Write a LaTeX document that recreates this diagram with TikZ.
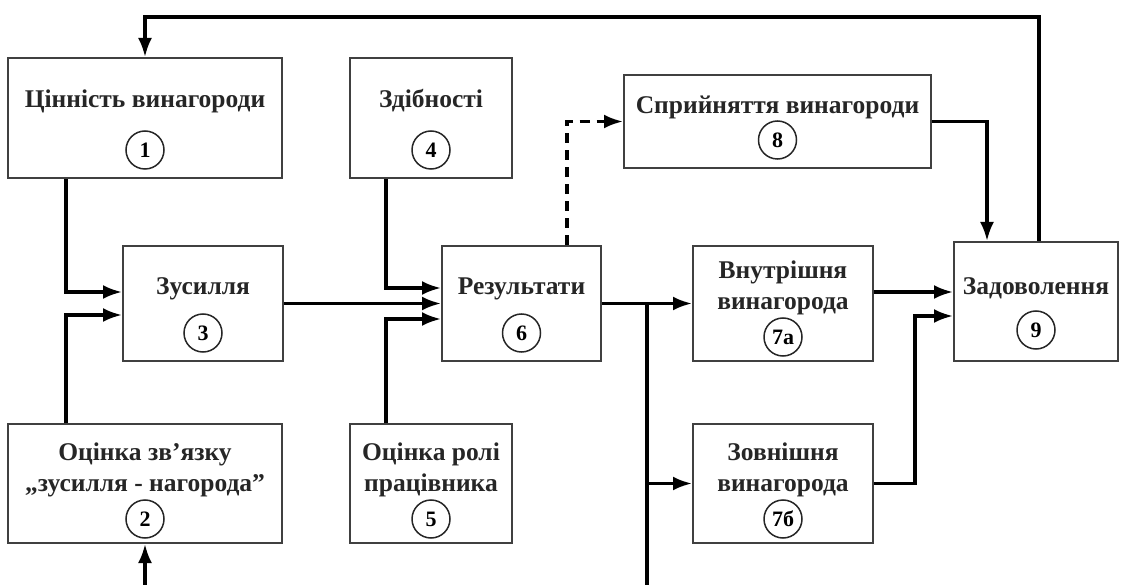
\documentclass[tikz,border=0pt]{standalone}
\usepackage{fontspec}
\setmainfont{Liberation Serif}
\usetikzlibrary{arrows.meta}

\begin{document}
\begin{tikzpicture}[x=1pt, y=-1pt, line join=miter,
  blok/.style={draw=black!75, line width=2pt, inner sep=0pt},
  napys/.style={font=\bfseries\fontsize{25.5}{31}\selectfont, inner sep=0pt, align=center, text=black!85},
  nomer/.style={circle, draw=black!85, line width=1.5pt, minimum size=38pt, inner sep=0pt, font=\bfseries\fontsize{22}{22}\selectfont},
  zvyazok/.style={line width=3.2pt, -{Latex[length=19pt,width=14pt]}},
  punktyr/.style={zvyazok, dashed, dash pattern=on 10pt off 7pt}]
  \useasboundingbox (0,0) rectangle (1122,585);
  % blocks
  \node[blok, minimum width=274pt, minimum height=120pt] (b1) at (145,118) {};
  \node[blok, minimum width=162pt, minimum height=120pt] (b4) at (431,118) {};
  \node[blok, minimum width=307pt, minimum height=93pt] (b8) at (777.5,121.5) {};
  \node[blok, minimum width=160pt, minimum height=115pt] (b3) at (203,303.5) {};
  \node[blok, minimum width=159pt, minimum height=115pt] (b6) at (521.5,303.5) {};
  \node[blok, minimum width=180pt, minimum height=115pt] (b7a) at (783,303.5) {};
  \node[blok, minimum width=164pt, minimum height=119pt] (b9) at (1036,301.5) {};
  \node[blok, minimum width=274pt, minimum height=119pt] (b2) at (145,483.5) {};
  \node[blok, minimum width=162pt, minimum height=119pt] (b5) at (431,483.5) {};
  \node[blok, minimum width=180pt, minimum height=119pt] (b7b) at (783,483.5) {};
  % labels
  \node[napys] at (145,101) {Цінність винагороди};
  \node[nomer] (n1) at (145,150) {1};
  \node[napys] at (431,101) {Здібності};
  \node[nomer] (n4) at (431,150) {4};
  \node[napys] at (777.5,107) {Сприйняття винагороди};
  \node[nomer] (n8) at (777.5,140) {8};
  \node[napys] at (203,289) {Зусилля};
  \node[nomer] (n3) at (203,333) {3};
  \node[napys] at (521.5,289) {Результати};
  \node[nomer] (n6) at (521.5,333) {6};
  \node[napys] at (783,288) {Внутрішня\\винагорода};
  \node[nomer] (n7a) at (783,337) {7а};
  \node[napys] at (1036,288) {Задоволення};
  \node[nomer] (n9) at (1036,330) {9};
  \node[napys] at (145,470) {Оцінка зв’язку\\„зусилля - нагорода”};
  \node[nomer] (n2) at (145,519) {2};
  \node[napys] at (431,470) {Оцінка ролі\\працівника};
  \node[nomer] (n5) at (431,519) {5};
  \node[napys] at (783,470) {Зовнішня\\винагорода};
  \node[nomer] (n7b) at (783,519) {7б};
  % free ends
  \coordinate (verh) at (145,17);
  \coordinate (j) at (647,303.5);
  \coordinate (niz1) at (647,585);
  \coordinate (niz2) at (145,585);
  % connectors
  \draw[zvyazok] ([xshift=59pt]b1.south west) |- ([yshift=11.5pt]b3.west);
  \draw[zvyazok] ([xshift=59pt]b2.north west) |- ([yshift=-11.5pt]b3.west);
  \draw[zvyazok] (b3.east) -- (b6.west);
  \draw[zvyazok] ([xshift=37pt]b4.south west) |- ([yshift=15.5pt]b6.west);
  \draw[zvyazok] ([xshift=37pt]b5.north west) |- ([yshift=-15.5pt]b6.west);
  \draw[zvyazok] (b6.east) -- (b7a.west);
  \draw[line width=3.2pt] (j) -- (niz1);
  \draw[zvyazok] (j |- b7b.west) -- (b7b.west);
  \draw[punktyr] ([xshift=-35pt]b6.north east) |- (b8.west);
  \draw[zvyazok] (b8.east) -| ([xshift=34pt]b9.north west);
  \draw[zvyazok] ([yshift=11.5pt]b7a.east) -- ([yshift=11.5pt]b7a.east -| b9.west);
  \draw[zvyazok] (b7b.east) -- ++(41,0) |- ([yshift=-14.5pt]b9.west);
  \draw[zvyazok] ([xshift=3pt]b9.north) |- (verh) -- (b1.north);
  \draw[zvyazok] (niz2) -- (b2.south);
\end{tikzpicture}
\end{document}
